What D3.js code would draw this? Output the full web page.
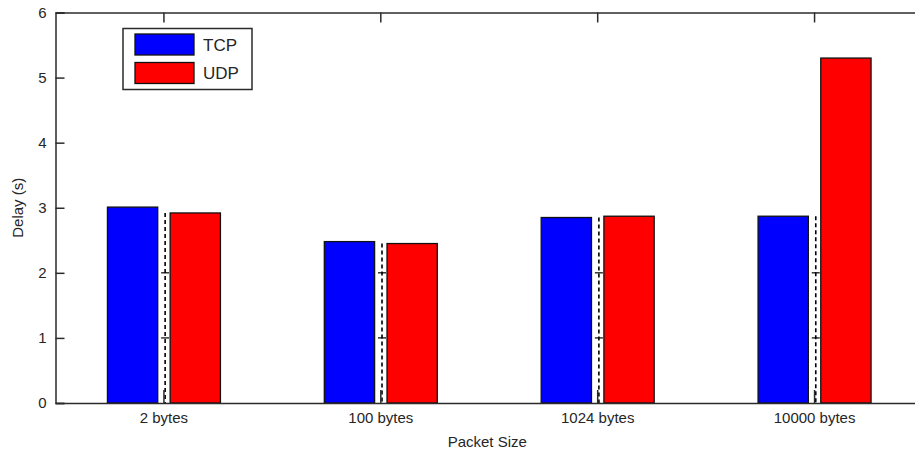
<!DOCTYPE html>
<html>
<head>
<meta charset="utf-8">
<script src="https://cdn.jsdelivr.net/npm/d3@7"></script>
<style>
  html, body { margin: 0; padding: 0; background: #fff; }
  svg { display: block; font-family: "Liberation Sans", Arial, sans-serif; }
</style>
</head>
<body>
<svg id="chart" width="915" height="456"></svg>
<script>
// Packet delay, TCP vs UDP, per packet size
const categories = ["2 bytes", "100 bytes", "1024 bytes", "10000 bytes"];
const seriesNames = ["TCP", "UDP"];
const tcpDelay = [3.01, 2.48, 2.85, 2.87];
const udpDelay = [2.92, 2.45, 2.87, 5.30];
const yTicks = [0, 1, 2, 3, 4, 5, 6];
const seriesColors = ["#0000ff", "#ff0000"];

const svg = d3.select("#chart");
const axisColor = "#2b2b2b";
const textColor = "#262626";

const plot = { left: 55.5, right: 923, top: 12.5, bottom: 403 };

const x0 = d3.scaleBand()
  .domain(categories)
  .range([plot.left, plot.right])
  .padding(0);

const groupW = x0.bandwidth();
const x1 = d3.scaleBand()
  .domain(seriesNames)
  .range([groupW * 0.2395, groupW * 0.7605])
  .paddingInner(0.198)
  .paddingOuter(0);

const y = d3.scaleLinear().domain([0, 6]).range([plot.bottom, plot.top]);

const rows = categories.map((c, i) => ({
  category: c,
  values: [
    { series: "TCP", value: tcpDelay[i] },
    { series: "UDP", value: udpDelay[i] }
  ]
}));

const color = d3.scaleOrdinal().domain(seriesNames).range(seriesColors);

// Dashed centre lines and small reference stubs behind the bars
const behind = svg.append("g");
rows.forEach(r => {
  const cx = x0(r.category) + groupW / 2 + 1.2;
  const lower = d3.min(r.values, d => d.value);
  behind.append("line")
    .attr("x1", cx).attr("x2", cx)
    .attr("y1", y(lower)).attr("y2", y(0))
    .attr("stroke", "#000").attr("stroke-width", 1.6)
    .attr("stroke-dasharray", "4,3");
  [1, 2].forEach(v => {
    behind.append("line")
      .attr("x1", cx - 4).attr("x2", cx + 4)
      .attr("y1", y(v)).attr("y2", y(v))
      .attr("stroke", "#000").attr("stroke-width", 1.2);
  });
});

// Bars
const groups = svg.append("g").selectAll("g")
  .data(rows).join("g")
  .attr("transform", d => `translate(${x0(d.category)},0)`);

groups.selectAll("rect")
  .data(d => d.values).join("rect")
  .attr("x", d => x1(d.series))
  .attr("y", d => y(d.value))
  .attr("width", x1.bandwidth())
  .attr("height", d => y(0) - y(d.value))
  .attr("fill", d => color(d.series))
  .attr("stroke", "#111")
  .attr("stroke-width", 1.3);

// Axes box: left and top lines, bottom baseline
const yAxis = d3.axisLeft(y).tickValues(yTicks).tickSize(-9).tickPadding(9).tickFormat(d3.format("d"));
const gy = svg.append("g").attr("transform", `translate(${plot.left},0)`).call(yAxis);
gy.select(".domain").attr("stroke", axisColor).attr("stroke-width", 1.5);
gy.selectAll(".tick line").attr("stroke", axisColor).attr("stroke-width", 1.5);
gy.selectAll(".tick text").attr("fill", textColor).style("font-size", "15px");

const xAxisBottom = d3.axisBottom(x0).tickSize(-13).tickPadding(9).tickSizeOuter(0);
const gx = svg.append("g").attr("transform", `translate(0,${plot.bottom})`).call(xAxisBottom);
gx.select(".domain").attr("stroke", axisColor).attr("stroke-width", 1.5);
gx.selectAll(".tick line").attr("stroke", axisColor).attr("stroke-width", 1.5);
gx.selectAll(".tick text").attr("fill", textColor).style("font-size", "15px");

const xAxisTop = d3.axisTop(x0).tickSize(-10).tickSizeOuter(0).tickFormat("");
const gt = svg.append("g").attr("transform", `translate(0,${plot.top})`).call(xAxisTop);
gt.select(".domain").attr("stroke", axisColor).attr("stroke-width", 1.5);
gt.selectAll(".tick line").attr("stroke", axisColor).attr("stroke-width", 1.5);

// Axis titles
svg.append("text")
  .attr("x", (plot.left + plot.right) / 2 - 2)
  .attr("y", 447)
  .attr("text-anchor", "middle")
  .attr("fill", textColor)
  .style("font-size", "15px")
  .text("Packet Size");

svg.append("text")
  .attr("transform", `translate(23,${(plot.top + plot.bottom) / 2}) rotate(-90)`)
  .attr("text-anchor", "middle")
  .attr("fill", textColor)
  .style("font-size", "15px")
  .text("Delay (s)");

// Legend
const legend = svg.append("g").attr("transform", "translate(123,28.5)");
legend.append("rect")
  .attr("width", 129).attr("height", 61)
  .attr("fill", "#fff").attr("stroke", axisColor).attr("stroke-width", 1.5);
seriesNames.forEach((name, i) => {
  const row = legend.append("g").attr("transform", `translate(12,${5.5 + i * 28.5})`);
  row.append("rect")
    .attr("width", 59).attr("height", 21)
    .attr("fill", color(name)).attr("stroke", "#111").attr("stroke-width", 1.3);
  row.append("text")
    .attr("x", 68).attr("y", 16.5)
    .attr("fill", textColor)
    .style("font-size", "17px")
    .text(name);
});
</script>
</body>
</html>
